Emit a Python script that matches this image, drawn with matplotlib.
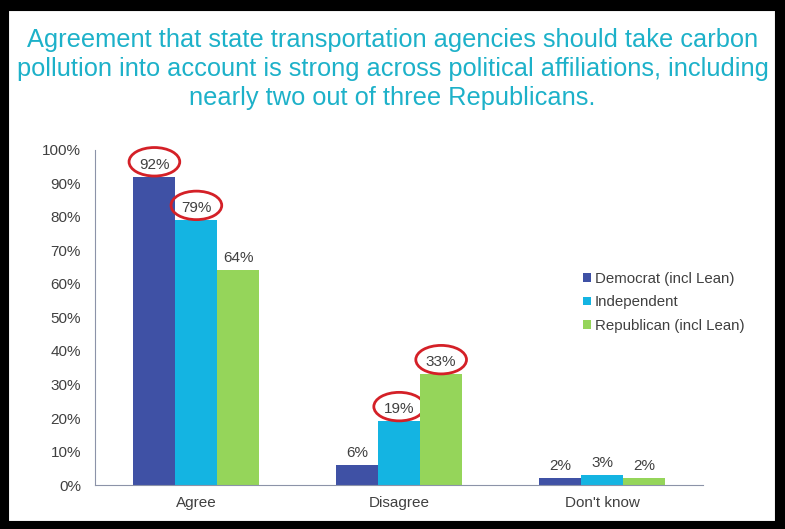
"""Bar chart: agreement that state transportation agencies should account for carbon pollution."""

import matplotlib

matplotlib.use("Agg")
import matplotlib.pyplot as plt
import numpy as np
from matplotlib.patches import Ellipse, Rectangle

plt.rcParams["font.family"] = ["Liberation Sans", "DejaVu Sans"]

categories = ["Agree", "Disagree", "Don't know"]
series = ["Democrat (incl Lean)", "Independent", "Republican (incl Lean)"]
democrat = [92, 6, 2]
independent = [79, 19, 3]
republican = [64, 33, 2]
# (series index, category index) of the labels circled in red
circled = [(0, 0), (1, 0), (1, 1), (2, 1)]

colors = ["#3F51A5", "#14B4E2", "#95D55A"]
title = ("Agreement that state transportation agencies should take carbon\n"
         "pollution into account is strong across political affiliations, including\n"
         "nearly two out of three Republicans.")

fig = plt.figure(figsize=(7.85, 5.29), dpi=100)
fig.patch.set_facecolor("white")
fig.patches.append(Rectangle((0.004, 0.006), 0.99, 0.985, transform=fig.transFigure,
                             fill=False, edgecolor="black", linewidth=8))
fig.text(0.5, 0.87, title, ha="center", va="center", color="#1DB1C9",
         fontsize=18.3, linespacing=1.27)

ax = fig.add_axes([0.121, 0.083, 0.775, 0.634])
x = np.arange(len(categories))
width = 0.207
values = [democrat, independent, republican]
for i, (name, vals) in enumerate(zip(series, values)):
    pos = x + (i - 1) * width
    ax.bar(pos, vals, width, color=colors[i], label=name)
    for j, v in enumerate(vals):
        ax.text(pos[j], v + 1.5, f"{v}%", ha="center", va="bottom",
                fontsize=11, color="#404040")
        if (i, j) in circled:
            ax.add_patch(Ellipse((pos[j], v + 4.4), 0.25, 8.5, fill=False,
                                 edgecolor="#D42027", linewidth=2, clip_on=False))

ax.set_xlim(-0.5, 2.5)
ax.set_ylim(0, 100)
ax.set_yticks(np.arange(0, 101, 10))
ax.set_yticklabels([f"{t}%" for t in range(0, 101, 10)])
ax.set_xticks(x)
ax.set_xticklabels(categories)
ax.tick_params(axis="both", length=0, labelsize=11, colors="#404040", pad=8)
ax.tick_params(axis="y", pad=10)
for side in ["top", "right"]:
    ax.spines[side].set_visible(False)
ax.spines["left"].set_color("#8C93A8")
ax.spines["bottom"].set_color("#8C93A8")

ax.legend(loc="center left", bbox_to_anchor=(0.78, 0.545), frameon=False,
          fontsize=10.8, handlelength=0.5, handleheight=0.5, handletextpad=0.3,
          labelspacing=0.62, labelcolor="#404040")

fig.savefig("out.png", dpi=100)
